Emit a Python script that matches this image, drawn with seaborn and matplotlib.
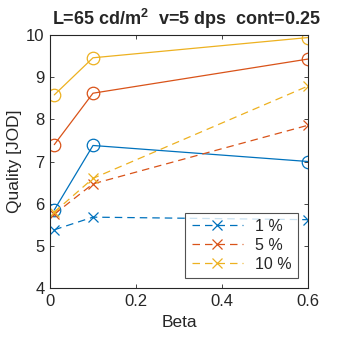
import matplotlib
matplotlib.use("Agg")
import matplotlib.pyplot as plt
import seaborn as sns
import pandas as pd

beta = [0.01, 0.1, 0.6]
labels = ["1 %", "5 %", "10 %"]
colors = ["#0072BD", "#D95319", "#EDB120"]
solid_vals = [
    [5.85, 7.38, 7.0],
    [7.4, 8.62, 9.43],
    [8.58, 9.46, 9.94],
]
dashed_vals = [
    [5.38, 5.68, 5.62],
    [5.75, 6.47, 7.86],
    [5.8, 6.6, 8.79],
]

sns.set_theme(style="white")
plt.rcParams["font.family"] = ["Liberation Sans", "DejaVu Sans"]
plt.rcParams["mathtext.fontset"] = "custom"
plt.rcParams["mathtext.bf"] = "Liberation Sans:bold"
plt.rcParams["mathtext.rm"] = "Liberation Sans"

fig = plt.figure(figsize=(3.4, 3.4), dpi=100)
ax = fig.add_axes([0.147, 0.153, 0.759, 0.744])

for vals, c in zip(solid_vals, colors):
    sns.lineplot(x=beta, y=vals, ax=ax, color=c, lw=0.9, marker="o",
                 markersize=9, markerfacecolor="none", markeredgecolor=c,
                 markeredgewidth=0.9, legend=False)

handles = []
for vals, c, lab in zip(dashed_vals, colors, labels):
    sns.lineplot(x=beta, y=vals, ax=ax, color=c, lw=0.9, marker="x",
                 markersize=7, markeredgecolor=c, markeredgewidth=0.9,
                 linestyle=(0, (6, 4)), legend=False)
    h, = ax.plot([], [], color=c, lw=0.9, marker="x", markersize=7,
                 markeredgewidth=0.9, linestyle=(0, (6, 4)), label=lab)
    handles.append(h)

ax.set_xlim(0, 0.6)
ax.set_ylim(4, 10)
ax.set_xticks([0, 0.2, 0.4, 0.6])
ax.set_xticklabels(["0", "0.2", "0.4", "0.6"])
ax.set_yticks([4, 5, 6, 7, 8, 9, 10])
ax.tick_params(direction="in", length=3, width=0.6, labelsize=12,
               colors="#262626", top=True, right=True, bottom=True, left=True,
               pad=4)
for s in ax.spines.values():
    s.set_color("#262626")
    s.set_linewidth(0.8)
ax.set_xlabel("Beta", fontsize=12.5, color="#262626", labelpad=5)
ax.set_ylabel("Quality [JOD]", fontsize=12.5, color="#262626", labelpad=3)
ax.set_title(r"L=65 cd/m$^\mathbf{2}$  v=5 dps  cont=0.25", fontsize=13,
             fontweight="bold", pad=7, x=0.53)

leg = ax.legend(handles=handles, loc="lower right", fontsize=11.5,
                handlelength=3.2, frameon=True, fancybox=False,
                edgecolor="#262626", borderaxespad=0.6, labelspacing=0.25,
                borderpad=0.4)
leg.get_frame().set_linewidth(0.8)

fig.savefig("out.png", dpi=100)
